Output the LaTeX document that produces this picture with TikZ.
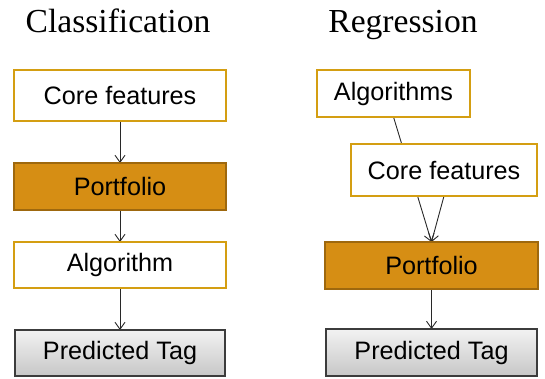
\documentclass[tikz,border=0pt]{standalone}
\usepackage{fontspec}
\setmainfont{Liberation Serif}
\newfontfamily\boxfont{Liberation Sans}
\usetikzlibrary{arrows.meta,backgrounds}

\definecolor{goldline}{RGB}{212,158,18}
\definecolor{pfill}{RGB}{214,142,20}
\definecolor{pline}{RGB}{158,104,14}
\definecolor{tagline}{RGB}{60,60,60}
\definecolor{arrowgray}{RGB}{40,40,40}

\tikzset{
  x=1pt, y=-1pt,
  box/.style={draw, rectangle, inner sep=0pt, outer sep=0pt,
    font=\boxfont\fontsize{25.2}{29}\selectfont, text=black},
  plainbox/.style={box, draw=goldline, line width=2.6pt, fill=white},
  portbox/.style={box, draw=pline, line width=2.6pt, fill=pfill},
  tagbox/.style={box, draw=tagline, line width=2pt,
    top color=black!5, bottom color=black!22},
  title/.style={anchor=base, font=\fontsize{33.6}{38}\selectfont},
  link/.style={draw=arrowgray, line width=0.9pt,
    -{Straight Barb[length=7pt,width=10pt,line width=0.9pt]}},
}

\begin{document}
\begin{tikzpicture}
\useasboundingbox (0,0) rectangle (545,378);

% column titles
\node[title] (tcls) at (118,32) {Classification};
\node[title] (treg) at (403,32) {Regression};

% classification chain
\node[plainbox, minimum width=212pt, minimum height=51pt] (cf1) at (120,95.5) {Core features};
\node[portbox,  minimum width=212pt, minimum height=47pt] (pf1) at (120,186.5) {Portfolio};
\node[plainbox, minimum width=212pt, minimum height=46pt] (al1) at (120,265) {Algorithm};
\node[tagbox,   minimum width=210pt, minimum height=46pt] (pt1) at (120,353) {Predicted Tag};

% regression chain
\node[plainbox, minimum width=153pt, minimum height=47pt] (al2) at (393.5,93.5) {Algorithms};
\node[plainbox, minimum width=186pt, minimum height=52pt] (cf2) at (444,170) {Core features};
\node[portbox,  minimum width=213pt, minimum height=47pt] (pf2) at (431.5,265.5) {Portfolio};
\node[tagbox,   minimum width=211pt, minimum height=47pt] (pt2) at (431.5,352.5) {Predicted Tag};

% connectors, kept behind the boxes
\begin{scope}[on background layer]
  \draw[link] (cf1.south) -- (pf1.north);
  \draw[link] (pf1.south) -- (al1.north);
  \draw[link] (al1.south) -- (pt1.north);
  \draw[link] (al2.south) -- (pf2.north);
  \draw[link] (cf2.south) -- (pf2.north);
  \draw[link] (pf2.south) -- (pt2.north);
\end{scope}
\end{tikzpicture}
\end{document}
